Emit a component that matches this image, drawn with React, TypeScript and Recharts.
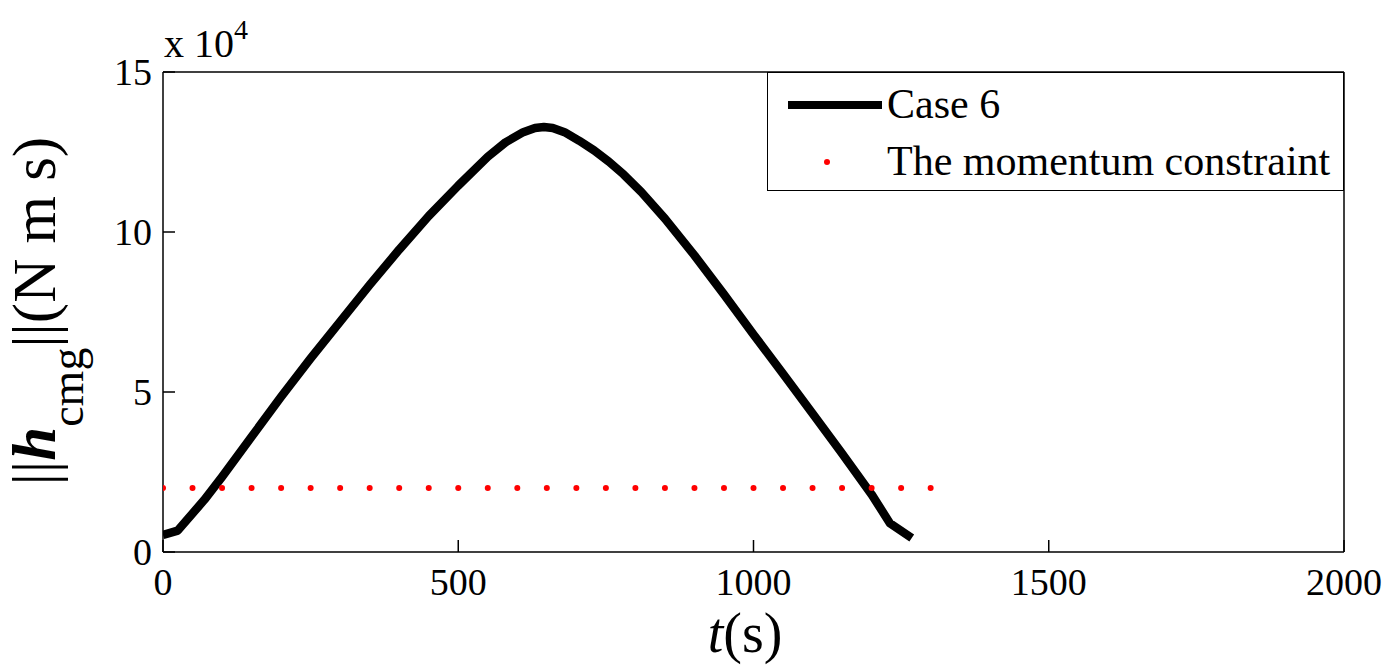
import { LineChart, Line, XAxis, YAxis, Legend } from 'recharts';

// time (s) and ||h_cmg|| (x 10^4 N m s)
const caseTimes = [0, 25, 70, 100, 150, 200, 250, 300, 350, 400, 450, 500, 550, 580, 610, 630, 645, 660, 680, 705, 730, 755, 780, 810, 850, 900, 950, 1000, 1050, 1100, 1150, 1200, 1231, 1268];
const caseValues = [0.53, 0.67, 1.63, 2.35, 3.6, 4.85, 6.05, 7.2, 8.35, 9.45, 10.5, 11.45, 12.35, 12.8, 13.12, 13.25, 13.28, 13.25, 13.12, 12.85, 12.55, 12.2, 11.8, 11.25, 10.42, 9.27, 8.05, 6.8, 5.57, 4.33, 3.08, 1.8, 0.9, 0.44];

const limitTimes = [0, 50, 100, 150, 200, 250, 300, 350, 400, 450, 500, 550, 600, 650, 700, 750, 800, 850, 900, 950, 1000, 1050, 1100, 1150, 1200, 1250, 1300];
const limitValue = 2;

const xTicks = [0, 500, 1000, 1500, 2000];
const yTicks = [0, 5, 10, 15];

const caseData = caseTimes.map((t, i) => ({ t, h: caseValues[i] }));
const limitData = limitTimes.map((t) => ({ t, h: limitValue }));

const FONT = '"Liberation Serif", "Times New Roman", serif';
const TICK = 12;

function BottomTick({ x, y, payload }: any) {
  return (
    <g>
      <line x1={x} y1={y} x2={x} y2={y - TICK} stroke="#000" strokeWidth={1.5} />
      <text x={x} y={y + 43} textAnchor="middle" fontSize={38} fontFamily={FONT} fill="#000">
        {payload.value}
      </text>
    </g>
  );
}

function LeftTick({ x, y, payload }: any) {
  return (
    <g>
      <line x1={x} y1={y} x2={x + TICK} y2={y} stroke="#000" strokeWidth={1.5} />
      <text x={x - 11} y={y + 13} textAnchor="end" fontSize={38} fontFamily={FONT} fill="#000">
        {payload.value}
      </text>
    </g>
  );
}

function TopTick({ x, y }: any) {
  return <line x1={x} y1={y} x2={x} y2={y + TICK} stroke="#000" strokeWidth={1.5} />;
}

function RightTick({ x, y }: any) {
  return <line x1={x} y1={y} x2={x - TICK} y2={y} stroke="#000" strokeWidth={1.5} />;
}

function LegendBox() {
  return (
    <div
      style={{
        width: 575,
        height: 117,
        border: '1.5px solid #000',
        background: '#fff',
        fontFamily: FONT,
        fontSize: 42,
        color: '#000',
        position: 'relative',
      }}
    >
      <svg width={120} height={117} style={{ position: 'absolute', left: 0, top: 0 }}>
        <line x1={20} y1={32} x2={114} y2={32} stroke="#000" strokeWidth={8} />
        <circle cx={59} cy={89} r={3} fill="#ff0000" />
      </svg>
      <div style={{ position: 'absolute', left: 119, top: 7, lineHeight: '48px' }}>Case 6</div>
      <div style={{ position: 'absolute', left: 119, top: 64, lineHeight: '48px', whiteSpace: 'nowrap' }}>
        The momentum constraint
      </div>
    </div>
  );
}

export default function App() {
  return (
    <div style={{ position: 'absolute', left: 0, top: 0, width: 1391, height: 666, background: '#fff' }}>
      <LineChart width={1391} height={666} margin={{ top: 71, right: 46, bottom: 113, left: 162 }}>
        <XAxis
          dataKey="t"
          type="number"
          domain={[0, 2000]}
          ticks={xTicks}
          height={1}
          tickSize={0}
          tickMargin={0}
          tickLine={false}
          tick={<BottomTick />}
          axisLine={{ stroke: '#000', strokeWidth: 1.5 }}
          allowDataOverflow
        />
        <XAxis
          xAxisId="top"
          orientation="top"
          dataKey="t"
          type="number"
          domain={[0, 2000]}
          ticks={xTicks}
          height={1}
          tickSize={0}
          tickMargin={0}
          tickLine={false}
          tick={<TopTick />}
          axisLine={{ stroke: '#000', strokeWidth: 1.5 }}
        />
        <YAxis
          type="number"
          domain={[0, 15]}
          ticks={yTicks}
          width={1}
          tickSize={0}
          tickMargin={0}
          tickLine={false}
          tick={<LeftTick />}
          axisLine={{ stroke: '#000', strokeWidth: 1.5 }}
        />
        <YAxis
          yAxisId="right"
          orientation="right"
          type="number"
          domain={[0, 15]}
          ticks={yTicks}
          width={1}
          tickSize={0}
          tickMargin={0}
          tickLine={false}
          tick={<RightTick />}
          axisLine={{ stroke: '#000', strokeWidth: 1.5 }}
        />
        <Legend
          layout="horizontal"
          verticalAlign="middle"
          align="center"
          wrapperStyle={{ position: 'absolute', left: 767, top: 72, width: 577, height: 119 }}
          content={() => <LegendBox />}
        />
        <Line
          data={limitData}
          dataKey="h"
          name="The momentum constraint"
          stroke="none"
          dot={{ r: 3, fill: '#ff0000', stroke: 'none' }}
          isAnimationActive={false}
        />
        <Line
          data={caseData}
          dataKey="h"
          name="Case 6"
          type="linear"
          stroke="#000"
          strokeWidth={8.5}
          strokeLinecap="butt"
          strokeLinejoin="round"
          dot={false}
          isAnimationActive={false}
        />
      </LineChart>
      <svg width={1391} height={666} style={{ position: 'absolute', left: 0, top: 0, pointerEvents: 'none' }}>
        <text x={164} y={57} fontSize={40} fontFamily={FONT} fill="#000">
          x 10<tspan fontSize={28} dy={-18}>4</tspan>
        </text>
        <text x={745} y={652} textAnchor="middle" fontSize={56} fontFamily={FONT} fill="#000">
          <tspan fontStyle="italic">t</tspan>(s)
        </text>
        <text transform="translate(55,311) rotate(-90)" textAnchor="middle" fontSize={61} fontFamily={FONT} fill="#000">
          ||<tspan fontWeight="bold" fontStyle="italic">h</tspan>
          <tspan fontSize={46} dy={28}>cmg</tspan>
          <tspan dy={-28}>||(N m s)</tspan>
        </text>
      </svg>
    </div>
  );
}
